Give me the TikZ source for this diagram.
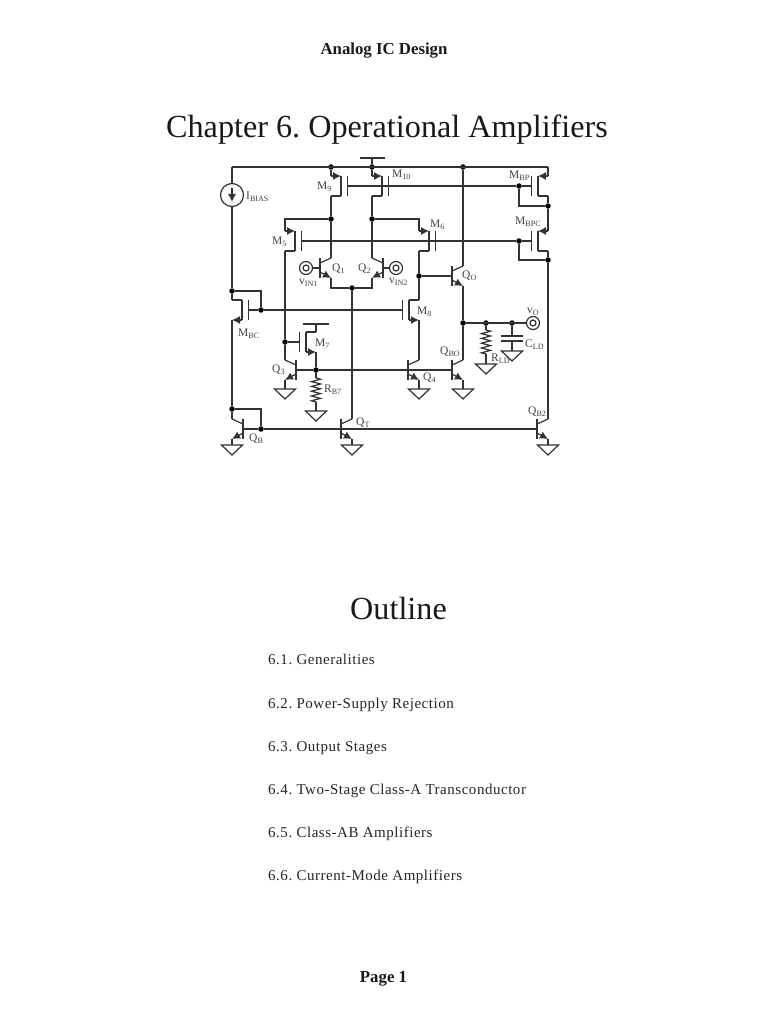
\documentclass[tikz,border=0pt]{standalone}
\usepackage{fontspec}
\setmainfont{Liberation Serif}
\usetikzlibrary{arrows.meta,decorations.pathmorphing}
\tikzset{
    wire/.style={line width=1.2pt,color=black!80},
    edge/.style={wire,-{Latex[length=8pt,width=8pt]}},
    dot/.style={circle,fill=black,inner sep=0pt,minimum size=5.5pt},
    term/.style={circle,draw,wire,inner sep=0pt,minimum size=13pt},
    termin/.style={circle,draw,wire,inner sep=0pt,minimum size=6pt},
    source/.style={circle,draw,wire,inner sep=0pt,minimum size=23pt},
    zig/.style={wire,decorate,decoration={zigzag,segment length=4.8pt,amplitude=4.5pt}},
    lbl/.style={anchor=west,inner sep=0pt,yshift=-1pt,color=black!75,font=\fontsize{11.5}{12}\selectfont},
    body/.style={anchor=base west,inner sep=0pt,color=black!85,font=\fontsize{15}{17}\selectfont\addfontfeature{LetterSpace=3.5}},
    head/.style={inner sep=0pt,yshift=-2pt,color=black!90,font=\fontsize{16.8}{18}\selectfont\bfseries},
    title/.style={inner sep=0pt,yshift=-2pt,color=black!90,font=\fontsize{32.2}{36}\selectfont}
}
\newcommand{\bjt}[4]{%
\coordinate (#1-b) at (#2,#3);
\coordinate (#1-c) at ({#2+#4*11},{#3-10});
\coordinate (#1-e) at ({#2+#4*11},{#3+10});
\draw[wire] (#2,{#3-10}) -- (#2,{#3+10});
\draw[wire] (#2,{#3-5}) -- (#1-c);
\draw[edge] (#2,{#3+4}) -- (#1-e);
}
\newcommand{\pmosfet}[4]{%
\coordinate (#1-g) at ({#2-#4*6.5},#3);
\coordinate (#1-s) at ({#2+#4*10},{#3-10});
\coordinate (#1-d) at ({#2+#4*10},{#3+10});
\draw[wire] (#2,{#3-10}) -- (#2,{#3+10});
\draw[wire] ({#2-#4*6.5},{#3-10}) -- ({#2-#4*6.5},{#3+10});
\draw[edge] (#1-s) -- (#2,{#3-10});
\draw[wire] (#2,{#3+10}) -- (#1-d);
}
\newcommand{\nmosfet}[4]{%
\coordinate (#1-g) at ({#2-#4*6.5},#3);
\coordinate (#1-d) at ({#2+#4*10},{#3-10});
\coordinate (#1-s) at ({#2+#4*10},{#3+10});
\draw[wire] (#2,{#3-10}) -- (#2,{#3+10});
\draw[wire] ({#2-#4*6.5},{#3-10}) -- ({#2-#4*6.5},{#3+10});
\draw[wire] (#2,{#3-10}) -- (#1-d);
\draw[edge] (#2,{#3+10}) -- (#1-s);
}
\newcommand{\gnd}[3]{%
\coordinate (#1) at (#2,#3);
\draw[wire] (#1) ++(-10.5,0) -- ++(21,0) -- ++(-10.5,10) -- cycle;
}
\newcommand{\lsub}[2]{#1\textsubscript{#2}}
\begin{document}
\frenchspacing
\begin{tikzpicture} [x=1pt,y=-1pt]
\useasboundingbox (0,0) rectangle (768,1024);

\node[head] (header) at (384,49) {Analog IC Design};
\node[title] (chapter) at (387,127.5) {Chapter 6. Operational Amplifiers};
\node[title] (outline) at (398.5,606) {Outline};
\node[body] (item1) at (268,664) {6.1. Generalities};
\node[body] (item2) at (268,708) {6.2. Power-Supply Rejection};
\node[body] (item3) at (268,751) {6.3. Output Stages};
\node[body] (item4) at (268,794) {6.4. Two-Stage Class-A Transconductor};
\node[body] (item5) at (268,837) {6.5. Class-AB Amplifiers};
\node[body] (item6) at (268,880) {6.6. Current-Mode Amplifiers};
\node[head] (page) at (383.5,977) {Page 1};

\pmosfet{m9}{341}{186}{-1}
\pmosfet{m10}{382}{186}{-1}
\pmosfet{m5}{295}{241}{-1}
\pmosfet{m6}{429}{241}{-1}
\pmosfet{mbp}{538}{186}{1}
\pmosfet{mbpc}{538}{241}{1}
\nmosfet{m8}{409}{310}{1}
\nmosfet{m7}{306}{342}{1}
\nmosfet{mbc}{242}{310}{-1}

\bjt{q1}{320}{268}{1}
\bjt{q2}{383}{268}{-1}
\bjt{qo}{452}{276}{1}
\bjt{q3}{296}{370}{-1}
\bjt{q4}{408}{370}{1}
\bjt{qbo}{452}{370}{1}
\bjt{qb}{243}{429}{-1}
\bjt{qt}{341}{429}{1}
\bjt{qb2}{537}{429}{1}

\gnd{g3}{285}{389}
\gnd{g4}{419}{389}
\gnd{gbo}{463}{389}
\gnd{gb7}{316}{411}
\gnd{gr}{486}{364}
\gnd{gc}{512}{351}
\gnd{gb}{232}{445}
\gnd{gt}{352}{445}
\gnd{gb2}{548}{445}

\coordinate (raill) at (232,167);
\coordinate (railr) at (548,167);
\coordinate (vddt) at (372,158);
\coordinate (vddl) at (360,158);
\coordinate (vddr) at (385,158);
\coordinate (m7t) at (316,324);
\coordinate (m7l) at (303,324);
\coordinate (m7r) at (329,324);
\coordinate (r7t) at (316,378);
\coordinate (r7b) at (316,402);
\coordinate (rlt) at (486,330);
\coordinate (rlb) at (486,354);
\coordinate (c1) at (512,336);
\coordinate (c1l) at (501,336);
\coordinate (c1r) at (523,336);
\coordinate (c2) at (512,341);
\coordinate (c2l) at (501,341);
\coordinate (c2r) at (523,341);
\coordinate (ibt) at (232,188);
\coordinate (ibb) at (232,202);

\node[source] (ibias) at (232,195) {};
\node[term] (vin1) at (306,268) {};
\node[termin] (vin1c) at (306,268) {};
\node[term] (vin2) at (396,268) {};
\node[termin] (vin2c) at (396,268) {};
\node[term] (vo) at (533,323) {};
\node[termin] (voc) at (533,323) {};

\node[dot] (j9) at (331,167) {};
\node[dot] (j10) at (372,167) {};
\node[dot] (jqoc) at (463,167) {};
\node[dot] (jm9) at (331,219) {};
\node[dot] (jm10) at (372,219) {};
\node[dot] (jbp) at (519,186) {};
\node[dot] (jbpd) at (548,206) {};
\node[dot] (jbpc) at (519,241) {};
\node[dot] (jbpcd) at (548,260) {};
\node[dot] (jqo) at (419,276) {};
\node[dot] (jtail) at (352,288) {};
\node[dot] (jbias) at (232,291) {};
\node[dot] (jbc) at (261,310) {};
\node[dot] (jo) at (463,323) {};
\node[dot] (jrl) at (486,323) {};
\node[dot] (jcl) at (512,323) {};
\node[dot] (jm3) at (285,342) {};
\node[dot] (jm7) at (316,370) {};
\node[dot] (jqb) at (232,409) {};
\node[dot] (jqbb) at (261,429) {};

\draw[wire] (raill) -- (railr);
\draw[wire] (raill) -- (ibias);
\draw[wire] (ibias) -- (jbias);
\draw[edge] (ibt) -- (ibb);
\draw[wire] (j10) -- (vddt);
\draw[wire] (vddl) -- (vddr);
\draw[wire] (j9) -- (m9-s);
\draw[wire] (j10) -- (m10-s);
\draw[wire] (m9-d) -- (jm9);
\draw[wire] (m10-d) -- (jm10);
\draw[wire] (jm9) -- (q1-c);
\draw[wire] (jm10) -- (q2-c);
\draw[wire] (jm9) -| (m5-s);
\draw[wire] (jm10) -| (m6-s);
\draw[wire] (m9-g) -- (jbp);
\draw[wire] (jbp) -- (mbp-g);
\draw[wire] (jbp) |- (jbpd);
\draw[wire] (m5-g) -- (jbpc);
\draw[wire] (jbpc) -- (mbpc-g);
\draw[wire] (jbpc) |- (jbpcd);
\draw[wire] (railr) -- (mbp-s);
\draw[wire] (mbp-d) -- (jbpd);
\draw[wire] (jbpd) -- (mbpc-s);
\draw[wire] (mbpc-d) -- (jbpcd);
\draw[wire] (jbpcd) -- (qb2-c);
\draw[wire] (vin1) -- (q1-b);
\draw[wire] (vin2) -- (q2-b);
\draw[wire] (q1-e) |- (jtail);
\draw[wire] (q2-e) |- (jtail);
\draw[wire] (jtail) -- (qt-c);
\draw[wire] (m5-d) -- (jm3);
\draw[wire] (jm3) -- (q3-c);
\draw[wire] (jm3) -- (m7-g);
\draw[wire] (m7-d) -- (m7t);
\draw[wire] (m7l) -- (m7r);
\draw[wire] (m7-s) -- (jm7);
\draw[wire] (q3-b) -- (jm7);
\draw[wire] (jm7) -- (qbo-b);
\draw[wire] (jm7) -- (r7t);
\draw[zig] (r7t) -- (r7b);
\draw[wire] (r7b) -- (gb7);
\draw[wire] (q3-e) -- (g3);
\draw[wire] (jbias) -| (jbc);
\draw[wire] (jbias) -- (mbc-d);
\draw[wire] (mbc-g) -- (jbc);
\draw[wire] (jbc) -- (m8-g);
\draw[wire] (mbc-s) -- (jqb);
\draw[wire] (jqb) -- (qb-c);
\draw[wire] (jqb) -| (jqbb);
\draw[wire] (qb-b) -- (jqbb);
\draw[wire] (jqbb) -- (qb2-b);
\draw[wire] (qb-e) -- (gb);
\draw[wire] (qt-e) -- (gt);
\draw[wire] (qb2-e) -- (gb2);
\draw[wire] (m6-d) -- (jqo);
\draw[wire] (jqo) -- (m8-d);
\draw[wire] (jqo) -- (qo-b);
\draw[wire] (m8-s) -- (q4-c);
\draw[wire] (q4-e) -- (g4);
\draw[wire] (qo-c) -- (jqoc);
\draw[wire] (qo-e) -- (jo);
\draw[wire] (jo) -- (qbo-c);
\draw[wire] (qbo-e) -- (gbo);
\draw[wire] (jo) -- (vo);
\draw[wire] (jrl) -- (rlt);
\draw[zig] (rlt) -- (rlb);
\draw[wire] (rlb) -- (gr);
\draw[wire] (jcl) -- (c1);
\draw[wire] (c1l) -- (c1r);
\draw[wire] (c2l) -- (c2r);
\draw[wire] (c2) -- (gc);

\node[lbl] (libias) at (246,196) {\lsub{I}{BIAS}};
\node[lbl] (lm9) at (317,186) {\lsub{M}{9}};
\node[lbl] (lm10) at (392,174) {\lsub{M}{10}};
\node[lbl] (lmbp) at (509,175) {\lsub{M}{BP}};
\node[lbl] (lmbpc) at (515,221) {\lsub{M}{BPC}};
\node[lbl] (lm6) at (430,224) {\lsub{M}{6}};
\node[lbl] (lm5) at (272,241) {\lsub{M}{5}};
\node[lbl] (lq1) at (332,268) {\lsub{Q}{1}};
\node[lbl] (lq2) at (358,268) {\lsub{Q}{2}};
\node[lbl] (lvin1) at (299,282) {\lsub{v}{IN1}};
\node[lbl] (lvin2) at (389,281) {\lsub{v}{IN2}};
\node[lbl] (lqo) at (462,275) {\lsub{Q}{O}};
\node[lbl] (lm8) at (417,311) {\lsub{M}{8}};
\node[lbl] (lmbc) at (238,333) {\lsub{M}{BC}};
\node[lbl] (lm7) at (315,343) {\lsub{M}{7}};
\node[lbl] (lq3) at (272,369) {\lsub{Q}{3}};
\node[lbl] (lrb7) at (324,389) {\lsub{R}{B7}};
\node[lbl] (lqb) at (249,438) {\lsub{Q}{B}};
\node[lbl] (lqt) at (356,422) {\lsub{Q}{T}};
\node[lbl] (lqbo) at (440,351) {\lsub{Q}{BO}};
\node[lbl] (lq4) at (423,377) {\lsub{Q}{4}};
\node[lbl] (lrld) at (491,358) {\lsub{R}{LD}};
\node[lbl] (lcld) at (525,344) {\lsub{C}{LD}};
\node[lbl] (lvo) at (527,311) {\lsub{v}{O}};
\node[lbl] (lqb2) at (528,411) {\lsub{Q}{B2}};

\end{tikzpicture}
\end{document}
